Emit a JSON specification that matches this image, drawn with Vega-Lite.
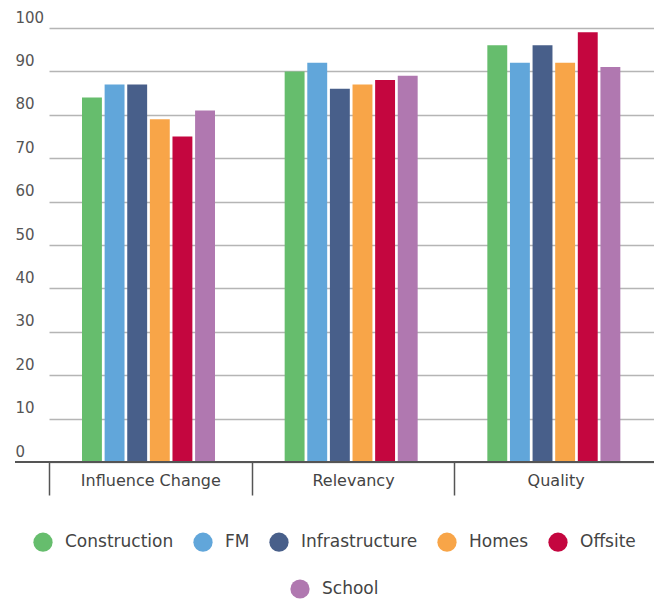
{
  "$schema": "https://vega.github.io/schema/vega-lite/v6.json",
  "width": 639,
  "height": 434,
  "autosize": "none",
  "padding": {"left": 15, "top": 28, "right": 0, "bottom": 137},
  "data": {
    "values": [
      {"metric": "Influence Change", "series": "Construction", "value": 84},
      {"metric": "Influence Change", "series": "FM", "value": 87},
      {"metric": "Influence Change", "series": "Infrastructure", "value": 87},
      {"metric": "Influence Change", "series": "Homes", "value": 79},
      {"metric": "Influence Change", "series": "Offsite", "value": 75},
      {"metric": "Influence Change", "series": "School", "value": 81},
      {"metric": "Relevancy", "series": "Construction", "value": 90},
      {"metric": "Relevancy", "series": "FM", "value": 92},
      {"metric": "Relevancy", "series": "Infrastructure", "value": 86},
      {"metric": "Relevancy", "series": "Homes", "value": 87},
      {"metric": "Relevancy", "series": "Offsite", "value": 88},
      {"metric": "Relevancy", "series": "School", "value": 89},
      {"metric": "Quality", "series": "Construction", "value": 96},
      {"metric": "Quality", "series": "FM", "value": 92},
      {"metric": "Quality", "series": "Infrastructure", "value": 96},
      {"metric": "Quality", "series": "Homes", "value": 92},
      {"metric": "Quality", "series": "Offsite", "value": 99},
      {"metric": "Quality", "series": "School", "value": 91}
    ]
  },
  "layer": [
    {
      "transform": [{"filter": "datum.series !== 'School'"}],
      "mark": {"type": "bar"},
      "encoding": {
        "x": {
          "field": "metric", "type": "nominal",
          "sort": ["Influence Change", "Relevancy", "Quality"],
          "scale": {"range": [34, 642], "paddingInner": 0, "paddingOuter": 0},
          "axis": {
            "title": null, "domain": false, "grid": false, "labelAngle": 0,
            "ticks": true, "tickSize": 33, "tickColor": "#555555", "tickWidth": 1.5,
            "tickBand": "extent", "labelPadding": -23, "labelFontSize": 16,
            "labelColor": "#444444"
          }
        },
        "xOffset": {
          "field": "series", "type": "nominal",
          "scale": {
            "domain": ["Construction", "FM", "Infrastructure", "Homes", "Offsite", "School"],
            "range": [33, 166],
            "paddingInner": 0.12, "paddingOuter": 0
          }
        },
        "y": {
          "field": "value", "type": "quantitative",
          "scale": {"domain": [0, 100]},
          "axis": {
            "title": null, "values": [0, 10, 20, 30, 40, 50, 60, 70, 80, 90, 100],
            "grid": true, "gridColor": "#b5b5b5", "gridWidth": 1.5,
            "domain": false, "ticks": false, "labelAlign": "left",
            "labelBaseline": "alphabetic", "labelOffset": -6, "labelPadding": 0,
            "labelFontSize": 15, "labelColor": "#555555"
          }
        },
        "color": {
          "field": "series", "type": "nominal",
          "scale": {
            "domain": ["Construction", "FM", "Infrastructure", "Homes", "Offsite"],
            "range": ["#66bd6d", "#61a6da", "#485f8a", "#f8a548", "#c4063f"]
          },
          "legend": {
            "title": null, "orient": "bottom", "direction": "horizontal",
            "symbolType": "circle", "symbolSize": 370, "symbolStrokeWidth": 0,
            "labelFontSize": 17, "labelColor": "#444444", "labelOffset": 12,
            "columnPadding": 19, "offset": 36
          }
        }
      }
    },
    {
      "transform": [{"filter": "datum.series === 'School'"}],
      "mark": {"type": "bar"},
      "encoding": {
        "x": {
          "field": "metric", "type": "nominal",
          "sort": ["Influence Change", "Relevancy", "Quality"]
        },
        "xOffset": {"field": "series", "type": "nominal"},
        "y": {"field": "value", "type": "quantitative"},
        "color": {
          "field": "series", "type": "nominal",
          "scale": {"domain": ["School"], "range": ["#b078b0"]},
          "legend": {
            "title": null, "orient": "bottom", "direction": "horizontal",
            "symbolType": "circle", "symbolSize": 370, "symbolStrokeWidth": 0,
            "labelFontSize": 17, "labelColor": "#444444", "labelOffset": 12,
            "offset": 36
          }
        }
      }
    },
    {
      "mark": {"type": "rule", "color": "#555555", "strokeWidth": 2},
      "encoding": {"y": {"datum": 0}}
    }
  ],
  "resolve": {"scale": {"color": "independent"}},
  "config": {
    "font": "DejaVu Sans",
    "view": {"stroke": null},
    "legend": {
      "layout": {"bottom": {"anchor": "middle", "direction": "vertical", "center": true, "margin": 27}}
    }
  }
}
